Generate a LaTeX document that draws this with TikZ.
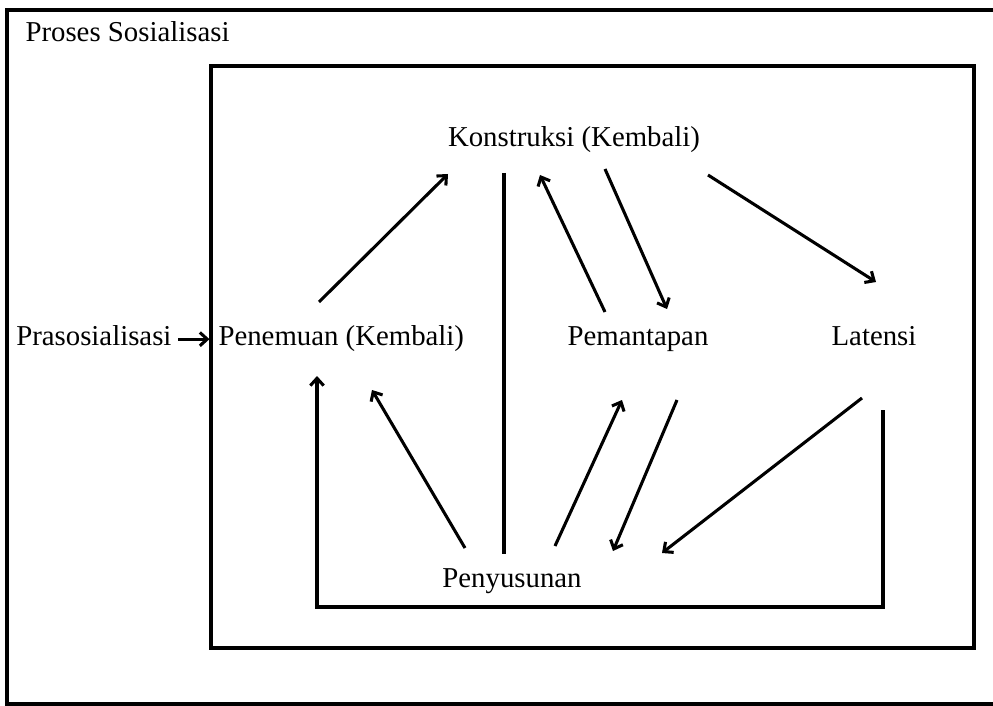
\documentclass[tikz,border=0pt]{standalone}
\usepackage{fontspec}
\setmainfont{Liberation Serif}
\usetikzlibrary{arrows.meta,positioning}

\begin{document}
\begin{tikzpicture}[
		x=0.75pt, y=-0.75pt,
		line width=2.3pt,
		stage/.style = {inner sep=0pt, font=\fontsize{21.6pt}{26pt}\selectfont},
		frame/.style = {draw, inner sep=0pt},
		flow/.style  = {->, draw},
		>={Straight Barb[length=5.5pt,width=10pt]}]
		
		\useasboundingbox (0,0) rectangle (993,706);
		\clip (0,0) rectangle (993,706);
		
		% outer frame, cut at the right by the page
		\draw (7,10) rectangle (1010,704);
		\node[stage, anchor=base west] (title) at (24,42) {Proses Sosialisasi};
		
		% inner frame
		\node[frame, minimum width=572.25pt, minimum height=436.5pt] (inner) at (592.5,357) {};
		
		% the stages
		\node[stage, anchor=base] (kon) at (574,147) {Konstruksi (Kembali)};
		\node[stage, anchor=base west] (pen) at (217,345) {Penemuan (Kembali)};
		\node[stage, base left=33pt of pen] (pra) {Prasosialisasi};
		\node[stage, anchor=base] (pem) at (638,345) {Pemantapan};
		\node[stage, anchor=base] (lat) at (874,345) {Latensi};
		\node[stage, anchor=base] (pny) at (512,587) {Penyusunan};
		
		% entry into the inner frame
		\coordinate (praend) at ([shift={(5,4)}]pra.east);
		\draw[flow] (praend) -- (praend -| inner.west);
		
		% upper arrows
		\draw[flow] ([shift={(102,-43)}]pen.base west) -- ([shift={(-126,27)}]kon.base);
		\draw ([shift={(-70,26)}]kon.base) -- ([shift={(-8,-33)}]pny.base);
		\draw[flow] ([shift={(-33,-33)}]pem.base) -- ([shift={(-34,28)}]kon.base);
		\draw[flow] ([shift={(31,22)}]kon.base) -- ([shift={(29,-36)}]pem.base);
		\draw[flow] ([shift={(134,28)}]kon.base) -- ([shift={(2,-63)}]lat.base);
		
		% lower arrows
		\draw[flow] ([shift={(-47,-39)}]pny.base) -- ([shift={(155,45)}]pen.base west);
		\draw[flow] ([shift={(43,-41)}]pny.base) -- ([shift={(-16,55)}]pem.base);
		\draw[flow] ([shift={(39,55)}]pem.base) -- ([shift={(101,-36)}]pny.base);
		\draw[flow] ([shift={(-12,53)}]lat.base) -- ([shift={(150,-34)}]pny.base);
		
		% return loop from Latensi back to Penemuan
		\draw[flow] ([shift={(9,65)}]lat.base) |- ([shift={(0,20)}]pny.base) -| ([shift={(100,31)}]pen.base west);
		
	\end{tikzpicture}
\end{document}
